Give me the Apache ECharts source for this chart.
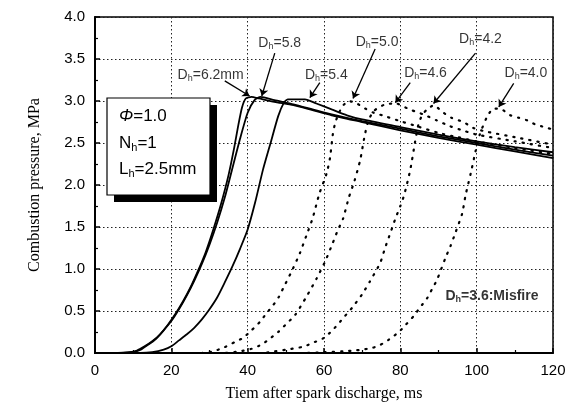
<!DOCTYPE html>
<html><head><meta charset="utf-8">
<script src="https://cdn.jsdelivr.net/npm/echarts@6/dist/echarts.min.js"></script>
<style>html,body{margin:0;padding:0;background:#fff}#c{width:578px;height:414px}</style>
</head><body><div id="c"></div><script>
// Pressure traces [time ms, pressure MPa] for each hole diameter D_h
const d62 = [[0,0],[6,0],[9,0.01],[11,0.03],[13,0.08],[15,0.14],[17,0.22],[19,0.33],[21,0.46],[23,0.61],[25,0.78],[27,0.98],[29,1.2],[31,1.47],[33,1.77],[35,2.12],[36.5,2.45],[37.5,2.7],[38.5,2.92],[39.5,3.03],[41,3.05],[43,3.03],[47,2.99],[52,2.95],[57,2.89],[62,2.83],[70,2.75],[80,2.65],[90,2.56],[100,2.48],[110,2.4],[120,2.32]];
const d58 = [[0,0],[7,0],[10,0.01],[12,0.04],[14,0.1],[16,0.17],[18,0.27],[20,0.38],[22,0.52],[24,0.68],[26,0.86],[28,1.06],[30,1.29],[32,1.55],[34,1.85],[36,2.2],[38,2.55],[40,2.86],[41.8,3.01],[43.4,3.05],[47,3.01],[52,2.96],[57,2.9],[62,2.84],[70,2.76],[80,2.67],[90,2.58],[100,2.5],[110,2.42],[120,2.35]];
const d54 = [[0,0],[12,0],[15,0.01],[18,0.04],[20,0.08],[22,0.15],[24,0.22],[26,0.3],[28,0.4],[30,0.52],[32,0.66],[34,0.84],[36,1.03],[38,1.24],[40,1.47],[42,1.8],[44,2.18],[46,2.5],[48,2.82],[49.5,2.98],[50.5,3.02],[55,3.02],[58,2.97],[62,2.9],[66,2.83],[70,2.78],[80,2.69],[90,2.6],[100,2.52],[110,2.45],[120,2.39]];
const d50 = [[0,0],[28,0],[31,0.02],[34,0.07],[36.6,0.13],[38.8,0.18],[41,0.27],[43.2,0.37],[44.9,0.47],[46.7,0.57],[48.2,0.67],[49.3,0.77],[51.5,0.97],[53.7,1.19],[55.4,1.4],[57,1.6],[58.8,1.9],[60.7,2.14],[61.6,2.33],[62.3,2.6],[63,2.75],[64.7,2.93],[66.5,3.0],[68.6,2.97],[70.8,2.91],[73,2.86],[75.2,2.83],[80,2.76],[85,2.69],[90,2.62],[95,2.57],[100,2.52],[110,2.44],[120,2.37]];
const d46 = [[0,0],[34,0],[38,0.02],[41,0.05],[43.6,0.1],[45.8,0.17],[48,0.25],[50.2,0.35],[52.4,0.45],[55.4,0.67],[58.1,0.89],[60.3,1.09],[62.3,1.31],[63.5,1.45],[65,1.6],[66.5,1.85],[68,2.05],[69.5,2.3],[70.5,2.55],[71.5,2.75],[73,2.88],[76,2.96],[79,2.97],[81,2.93],[83,2.89],[86,2.84],[89.5,2.77],[93,2.7],[97,2.64],[100,2.6],[110,2.52],[120,2.44]];
const d42 = [[0,0],[44,0],[47,0.02],[50.2,0.04],[54.6,0.075],[57,0.12],[59.8,0.175],[62,0.26],[63.8,0.35],[65.5,0.44],[67.4,0.54],[70,0.7],[72,0.85],[74.7,1.07],[76,1.25],[77.4,1.43],[78.7,1.6],[80,1.75],[81,1.88],[82.6,2.18],[84,2.55],[84.8,2.73],[85.7,2.83],[87,2.9],[88.8,2.95],[91,2.87],[93.4,2.8],[96.5,2.75],[99.1,2.68],[102,2.64],[110,2.57],[120,2.48]];
const d40 = [[0,0],[55,0],[60,0.01],[65,0.02],[68,0.03],[70,0.04],[72.6,0.06],[74.7,0.095],[77,0.16],[79.6,0.25],[81.5,0.34],[83.5,0.44],[85.3,0.55],[87,0.65],[88.3,0.76],[89.6,0.87],[91.8,1.13],[93.2,1.28],[94.5,1.44],[96.2,1.66],[97.1,1.88],[98.5,2.15],[99.7,2.4],[100.8,2.6],[102.6,2.8],[104.4,2.91],[106.6,2.9],[108.8,2.83],[111,2.8],[113.2,2.77],[115.4,2.72],[117.7,2.69],[120,2.66]];
const d36 = [[0,0],[120,0]];

const xTicks = [0, 20, 40, 60, 80, 100, 120];
const yTicks = ['0.0','0.5','1.0','1.5','2.0','2.5','3.0','3.5','4.0'];

// Curve labels: text, label anchor, arrow start, arrow tip (data units)
const labelTexts = ['6.2mm','5.8','5.4','5.0','4.6','4.2','4.0'];
const labelAt = [[30.3,3.3],[48.4,3.68],[60.6,3.3],[73.9,3.7],[86.6,3.33],[101,3.73],[112.9,3.33]];
const arrowFrom = [[34,3.24],[47.1,3.57],[58.9,3.22],[73.4,3.62],[82.6,3.22],[99.7,3.57],[109.7,3.21]];
const arrowTo = [[40.5,3.06],[43.7,3.06],[56.3,3.04],[67.6,3.03],[78.7,2.98],[88.7,2.97],[105.8,2.93]];

const SANS = 'Liberation Sans, Arial, sans-serif';
const SERIF = 'Liberation Serif, Times New Roman, serif';
const subRich = {
  m: { fontFamily: SANS, fontSize: 14, color: '#000', verticalAlign: 'top', lineHeight: 15 },
  s: { fontFamily: SANS, fontSize: 9, color: '#000', verticalAlign: 'bottom', lineHeight: 10, padding: [8, 0, 0, 0] },
  mb: { fontFamily: SANS, fontSize: 14, fontWeight: 'bold', color: '#000', verticalAlign: 'top', lineHeight: 15 },
  sb: { fontFamily: SANS, fontSize: 9, fontWeight: 'bold', color: '#000', verticalAlign: 'bottom', lineHeight: 10, padding: [8, 0, 0, 0] }
};

const solid = (name, data) => ({
  name, type: 'line', data, showSymbol: false, smooth: 0.2, silent: true,
  lineStyle: { color: '#000', width: 1.8 }
});
const dotted = (name, data) => ({
  name, type: 'line', data, showSymbol: false, smooth: 0.2, silent: true,
  lineStyle: { color: '#000', width: 2.2, type: [1.2, 7], cap: 'round' }
});

const annData = labelTexts.map((t, i) => ({
  value: labelAt[i],
  label: { formatter: '{m|D}{s|h}{m|=' + t + '}' }
}));
annData.push({ value: [104, 0.67], label: { formatter: '{mb|D}{sb|h}{mb|=3.6:Misfire}' } });

const chart = echarts.init(document.getElementById('c'), null, { renderer: 'canvas' });
chart.setOption({
  animation: false,
  backgroundColor: '#fff',
  grid: { left: 95, top: 17, right: 25, bottom: 61, show: true, borderColor: '#000', borderWidth: 1.5, backgroundColor: 'transparent' },
  xAxis: {
    type: 'value', min: 0, max: 120, interval: 20,
    axisLine: { show: true, lineStyle: { color: '#000', width: 2 } },
    axisTick: { show: true, inside: true, length: 5, lineStyle: { color: '#000', width: 1.5 } },
    minorTick: { show: true, splitNumber: 2, length: 3, lineStyle: { color: '#000', width: 1.2 } },
    axisLabel: { color: '#000', fontFamily: SANS, fontSize: 15, margin: 10,
      formatter: v => xTicks.includes(v) ? String(v) : '' },
    splitLine: { show: true, lineStyle: { color: '#222', width: 1, type: [1.5, 2.5] } },
    name: 'Tiem after spark discharge, ms', nameLocation: 'middle', nameGap: 33,
    nameTextStyle: { fontFamily: SERIF, fontSize: 16, color: '#000' }
  },
  yAxis: {
    type: 'value', min: 0, max: 4, interval: 0.5,
    axisLine: { show: true, lineStyle: { color: '#000', width: 2 } },
    axisTick: { show: true, inside: true, length: 5, lineStyle: { color: '#000', width: 1.5 } },
    minorTick: { show: true, splitNumber: 2, length: 3, lineStyle: { color: '#000', width: 1.2 } },
    axisLabel: { color: '#000', fontFamily: SANS, fontSize: 15, margin: 10,
      formatter: v => yTicks[Math.round(v / 0.5)] },
    splitLine: { show: true, lineStyle: { color: '#222', width: 1, type: [1.5, 2.5] } },
    name: 'Combustion pressure, MPa', nameLocation: 'middle', nameGap: 52,
    nameTextStyle: { fontFamily: SERIF, fontSize: 16, color: '#000' }
  },
  series: [
    solid('D_h=6.2', d62), solid('D_h=5.8', d58), solid('D_h=5.4', d54),
    dotted('D_h=5.0', d50), dotted('D_h=4.6', d46), dotted('D_h=4.2', d42), dotted('D_h=4.0', d40),
    dotted('D_h=3.6', d36),
    {
      type: 'lines', coordinateSystem: 'cartesian2d', silent: true, z: 5,
      symbol: ['none', 'arrow'], symbolSize: 7,
      lineStyle: { color: '#000', width: 1.3, opacity: 1 },
      data: arrowFrom.map((p, i) => ({ coords: [p, arrowTo[i]] }))
    },
    {
      type: 'scatter', symbolSize: 0, silent: true, z: 6,
      label: { show: true, position: 'inside', rich: subRich },
      data: annData
    }
  ],
  graphic: [
    { type: 'rect', z: 10, shape: { x: 114, y: 105, width: 103, height: 97 }, style: { fill: '#000' } },
    { type: 'rect', z: 11, shape: { x: 107, y: 98, width: 103, height: 97 }, style: { fill: '#fff', stroke: '#000', lineWidth: 1.2 } },
    { type: 'text', z: 12, left: 119, top: 108, style: {
        text: '{i|Φ}{m|=1.0}',
        rich: { i: { fontFamily: SANS, fontSize: 17, fontStyle: 'italic', fill: '#000' }, m: { fontFamily: SANS, fontSize: 17, fill: '#000' } } } },
    { type: 'text', z: 12, left: 119, top: 132, style: {
        text: '{m|N}{s|h}{m|=1}',
        rich: { m: { fontFamily: SANS, fontSize: 17, fill: '#000', verticalAlign: 'top', lineHeight: 18 }, s: { fontFamily: SANS, fontSize: 11, fill: '#000', verticalAlign: 'bottom', lineHeight: 11, padding: [10, 0, 0, 0] } } } },
    { type: 'text', z: 12, left: 119, top: 158, style: {
        text: '{m|L}{s|h}{m|=2.5mm}',
        rich: { m: { fontFamily: SANS, fontSize: 17, fill: '#000', verticalAlign: 'top', lineHeight: 18 }, s: { fontFamily: SANS, fontSize: 11, fill: '#000', verticalAlign: 'bottom', lineHeight: 11, padding: [10, 0, 0, 0] } } } }
  ]
});
</script></body></html>
